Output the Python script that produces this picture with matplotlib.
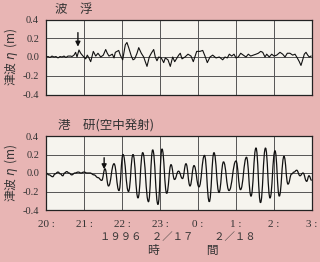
import matplotlib
matplotlib.use('Agg')
import matplotlib.pyplot as plt
from matplotlib.path import Path
from matplotlib.patches import PathPatch

# hours after 20:00, tsunami level (m)
buoy_t = [0.0, 0.053, 0.105, 0.158, 0.21, 0.263, 0.316, 0.368, 0.421, 0.474, 0.526, 0.579,
          0.65, 0.684, 0.737, 0.78, 0.816, 0.868, 0.913, 0.974, 1.045, 1.087, 1.13, 1.176,
          1.245, 1.308, 1.368, 1.44, 1.508, 1.571, 1.613, 1.658, 1.745, 1.79, 1.824, 1.913,
          1.955, 2.018, 2.087, 2.13, 2.176, 2.245, 2.29, 2.334, 2.395, 2.44, 2.508, 2.571,
          2.613, 2.658, 2.718, 2.771, 2.834, 2.876, 2.92, 2.966, 3.034, 3.097, 3.14, 3.21,
          3.271, 3.334, 3.387, 3.447, 3.492, 3.534, 3.579, 3.658, 3.737, 3.816, 3.876, 3.966,
          4.053, 4.124, 4.184, 4.245, 4.316, 4.387, 4.474, 4.56, 4.65, 4.71, 4.771, 4.824,
          4.887, 4.947, 5.0, 5.06, 5.124, 5.192, 5.263, 5.324, 5.387, 5.455, 5.526, 5.587,
          5.65, 5.703, 5.763, 5.808, 5.876, 5.94, 6.0, 6.071, 6.158, 6.229, 6.29, 6.35,
          6.42, 6.492, 6.553, 6.613, 6.666, 6.71, 6.755, 6.797, 6.842, 6.887, 6.929, 6.974]
buoy_v = [0.0, 0.005, -0.005, 0.01, 0.0, 0.005, -0.01, 0.005, 0.0, 0.01, -0.005, 0.01,
          0.01, 0.005, 0.02, 0.05, 0.0, 0.075, 0.04, 0.01, -0.02, 0.02, -0.01, -0.05,
          0.06, 0.01, 0.04, 0.0, 0.02, 0.08, 0.04, 0.01, 0.03, -0.01, 0.05, 0.07,
          0.02, -0.03, 0.13, 0.155, 0.1, 0.01, -0.03, -0.02, 0.04, 0.1, 0.04, 0.0,
          -0.05, -0.1, 0.0, 0.04, 0.08, 0.0, -0.04, 0.0, -0.01, -0.06, -0.01, -0.03,
          -0.1, 0.0, -0.05, -0.01, 0.02, 0.04, -0.02, 0.0, 0.03, 0.01, -0.05, 0.06,
          0.06, 0.07, 0.01, -0.06, 0.0, 0.02, -0.01, 0.0, -0.03, 0.0, -0.01, 0.03,
          0.01, 0.03, -0.01, 0.0, 0.04, 0.02, 0.0, 0.03, 0.01, 0.02, 0.03, 0.04,
          0.06, 0.05, 0.0, 0.03, 0.0, 0.03, 0.01, 0.02, 0.05, 0.03, 0.0, 0.04,
          0.04, 0.02, 0.03, -0.01, -0.05, -0.09, -0.03, 0.03, 0.05, 0.02, 0.0, 0.01]

port_t = [0.0, 0.079, 0.176, 0.237, 0.316, 0.38, 0.44, 0.49, 0.545, 0.605, 0.676, 0.763,
          0.85, 0.92, 1.0, 1.079, 1.158, 1.263, 1.368, 1.466, 1.553, 1.645, 1.79, 1.92,
          2.026, 2.171, 2.29, 2.421, 2.545, 2.697, 2.808, 2.947, 3.053, 3.176, 3.29, 3.382,
          3.487, 3.592, 3.684, 3.79, 3.895, 4.026, 4.17, 4.297, 4.42, 4.553, 4.671, 4.816,
          5.0, 5.118, 5.276, 5.395, 5.526, 5.645, 5.776, 5.895, 6.026, 6.139, 6.263, 6.368,
          6.466, 6.526, 6.597, 6.684, 6.763, 6.86, 6.921, 6.992]
port_v = [0.0, -0.02, -0.04, -0.01, 0.01, -0.01, -0.03, 0.0, 0.015, 0.0, -0.02, 0.0,
          0.01, 0.0, 0.01, 0.0, 0.0, -0.02, -0.05, -0.08, 0.045, -0.14, 0.1, -0.19,
          0.2, -0.2, 0.2, -0.27, 0.22, -0.31, 0.25, -0.34, 0.26, -0.22, 0.09, -0.07,
          0.02, -0.06, 0.1, -0.14, 0.08, -0.15, 0.19, -0.31, 0.22, -0.21, 0.12, -0.19,
          0.13, -0.18, 0.17, -0.25, 0.27, -0.32, 0.27, -0.27, 0.24, -0.25, 0.18, -0.12,
          -0.01, 0.01, 0.03, -0.03, 0.0, -0.09, -0.03, -0.08]

hour_labels = ['20 :', '21 :', '22 :', '23 :', '0 :', '1 :', '2 :', '3 :']
y_ticks = [0.4, 0.2, 0.0, -0.2, -0.4]
arrow_top = (0.84, 0.26, 0.11)
arrow_bottom = (1.53, 0.165, 0.04)

BG = '#e8b5b4'
FACE = '#f6f4ee'
JP = ['Noto Sans CJK JP', 'DejaVu Sans']
SERIF = 'Liberation Serif'


def smooth_path(t, v):
    verts = [(t[0], v[0])]
    codes = [Path.MOVETO]
    for i in range(1, len(t)):
        dx = t[i] - t[i - 1]
        verts += [(t[i - 1] + dx * 0.45, v[i - 1]), (t[i] - dx * 0.45, v[i]), (t[i], v[i])]
        codes += [Path.CURVE4] * 3
    return Path(verts, codes)


fig = plt.figure(figsize=(3.2, 2.62), dpi=100, facecolor=BG)
W, H = 320, 262
ax1 = fig.add_axes([46 / W, 1 - 94.5 / H, 266 / W, 75 / H])
ax2 = fig.add_axes([46 / W, 1 - 210 / H, 266 / W, 74 / H])

for ax in (ax1, ax2):
    ax.set_facecolor(FACE)
    ax.set_xlim(0, 7)
    ax.set_ylim(-0.4, 0.4)
    ax.set_xticks(range(8))
    ax.set_yticks(y_ticks)
    ax.set_yticklabels(['%.1f' % y for y in y_ticks], fontfamily=SERIF, fontsize=7.5, color='#333')
    ax.tick_params(axis='y', length=0, pad=5)
    ax.tick_params(axis='x', length=0, pad=7)
    ax.grid(True, color='#555', linewidth=0.7)
    ax.set_axisbelow(True)
    for s in ax.spines.values():
        s.set_linewidth(0.9)
        s.set_color('#222')
    ax.set_ylabel('津波 $\\eta$  (m)', fontfamily=JP, fontsize=8.5, color='#333', labelpad=2)

ax1.set_xticklabels([])
ax2.set_xticklabels(hour_labels, fontfamily=SERIF, fontsize=8, color='#333')

ax1.plot(buoy_t, buoy_v, color='#111', linewidth=0.8)
ax2.add_patch(PathPatch(smooth_path(port_t, port_v), fill=False, edgecolor='#111', linewidth=0.9))

for ax, (x, y0, y1) in ((ax1, arrow_top), (ax2, arrow_bottom)):
    ax.annotate('', xy=(x, y1), xytext=(x, y0),
                arrowprops=dict(arrowstyle='-|>', color='#111', lw=1.0,
                                mutation_scale=7, shrinkA=0, shrinkB=0))

fig.text(55 / W, 1 - 10 / H, '波　浮', fontfamily=JP, fontsize=9, color='#333', va='center')
fig.text(58 / W, 1 - 125 / H, '港　研(空中発射)', fontfamily=JP, fontsize=9, color='#333', va='center')
fig.text(100 / W, 1 - 237 / H, '１９９６　２／１７　　２／１８', fontfamily=JP, fontsize=7.5,
         color='#333', va='center')
fig.text(148 / W, 1 - 250 / H, '時　　　　間', fontfamily=JP, fontsize=8.5, color='#333', va='center')

fig.savefig('out.png', dpi=100, facecolor=BG)
